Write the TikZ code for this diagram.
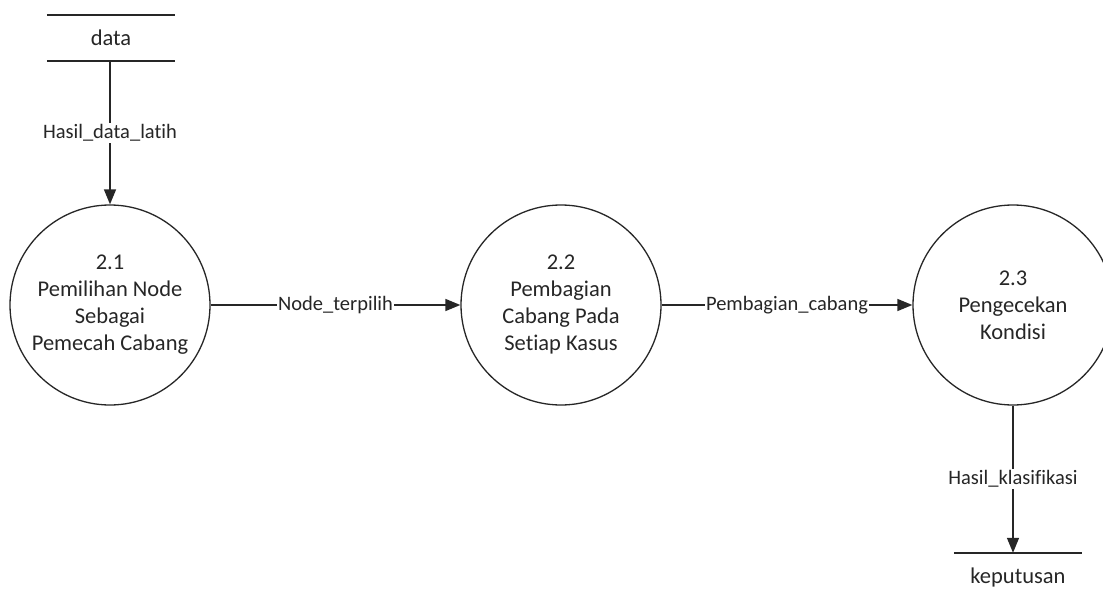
\documentclass[tikz,border=0pt]{standalone}
\usepackage{fontspec}
\setmainfont{Carlito}[Ligatures=NoCommon]
\usetikzlibrary{arrows.meta}
\begin{document}
\begin{tikzpicture}[x=1pt,y=-1pt,
  proc/.style={circle, draw=black!85, line width=1.3pt, minimum size=200pt,
    inner sep=0pt, align=center, text=black!85,
    font=\fontsize{22.5}{27}\selectfont},
  flow/.style={draw=black!85, line width=1.5pt,
    -{Triangle[length=15pt,width=12pt]}},
  flowlabel/.style={fill=white, inner sep=1.5pt, text=black!85,
    font=\fontsize{20.5}{24}\selectfont},
  storebox/.style={minimum width=128pt, minimum height=46pt, inner sep=0pt,
    text=black!85, font=\fontsize{22.5}{27}\selectfont},
  storeline/.style={draw=black!85, line width=1.5pt}]
\useasboundingbox (0,0) rectangle (1103,596);
\clip (0,0) rectangle (1103,596);

% data stores
\node[storebox] (data) at (111,38) {data};
\draw[storeline] (data.north west) -- (data.north east)
                 (data.south west) -- (data.south east);
\node[storebox, minimum height=48pt] (kep) at (1018,577) {keputusan};
\draw[storeline] (kep.north west) -- (kep.north east);

% processes
\node[proc] (p21) at (110,305) {2.1\\Pemilihan Node\\Sebagai\\Pemecah Cabang};
\node[proc] (p22) at (561,305) {2.2\\Pembagian\\Cabang Pada\\Setiap Kasus};
\node[proc] (p23) at (1013,305) {2.3\\Pengecekan\\Kondisi};

% data flows
\draw[flow] (data.south -| p21.north) -- node[flowlabel] {Hasil\_data\_latih} (p21.north);
\draw[flow] (p21.east) -- node[flowlabel] {Node\_terpilih} (p22.west);
\draw[flow] (p22.east) -- node[flowlabel] {Pembagian\_cabang} (p23.west);
\draw[flow] (p23.south) -- node[flowlabel] {Hasil\_klasifikasi} (p23.south |- kep.north);
\end{tikzpicture}
\end{document}
